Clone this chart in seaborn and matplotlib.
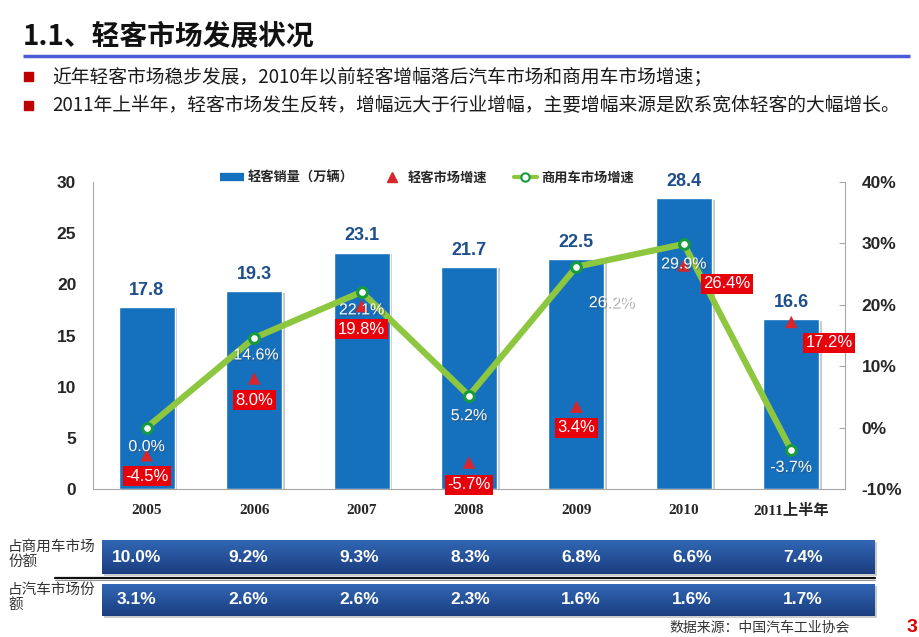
import numpy as np
import pandas as pd
import matplotlib
matplotlib.use('Agg')
import matplotlib.pyplot as plt
import seaborn as sns
from matplotlib.lines import Line2D
from matplotlib.patches import Rectangle
from matplotlib.colors import LinearSegmentedColormap
import matplotlib.patheffects as pe

# ---------------- data ----------------
years = ['2005', '2006', '2007', '2008', '2009', '2010', '2011上半年']
sales = [17.8, 19.3, 23.1, 21.7, 22.5, 28.4, 16.6]          # 轻客销量（万辆）
lcv_growth = [-4.5, 8.0, 19.8, -5.7, 3.4, 26.4, 17.2]       # 轻客市场增速 %
cv_growth = [0.0, 14.6, 22.1, 5.2, 26.2, 29.9, -3.7]        # 商用车市场增速 %
share_cv = [10.0, 9.2, 9.3, 8.3, 6.8, 6.6, 7.4]             # 占商用车市场份额 %
share_auto = [3.1, 2.6, 2.6, 2.3, 1.6, 1.6, 1.7]            # 占汽车市场份额 %
left_ticks = [0, 5, 10, 15, 20, 25, 30]
right_ticks = [-10, 0, 10, 20, 30, 40]
legend_labels = ['轻客销量（万辆）', '轻客市场增速', '商用车市场增速']
title = '1.1、轻客市场发展状况'
bullets = ['近年轻客市场稳步发展，2010年以前轻客增幅落后汽车市场和商用车市场增速；',
           '2011年上半年，轻客市场发生反转，增幅远大于行业增幅，主要增幅来源是欧系宽体轻客的大幅增长。']
row_labels = ['占商用车市场\n份额', '占汽车市场份\n额']
source = '数据来源：中国汽车工业协会'
page = '3'

# ---------------- style ----------------
BLUE = '#1570BE'
GREEN = '#8DC63F'
DKGREEN = '#169B3E'
RED = '#D7262C'
BOXRED = '#E8000B'
SPINE = '#A6A6A6'
green_off = [(0, -19), (2, -17), (0, -18), (0, -20), (35, -36), (0, -20), (0, -17)]
red_off = [(0, -21), (0, -22), (0, -23), (0, -22), (0, -21), (43, -18), (38, -21)]

sns.set_style('white')
plt.rcParams['font.family'] = ['Liberation Sans', 'Noto Sans CJK SC', 'DejaVu Sans']
CJK = ['Noto Sans CJK SC', 'DejaVu Sans']

W, H = 920, 637
fig = plt.figure(figsize=(9.2, 6.37), dpi=100)


def fx(px):
    return px / W


def fy(py):
    return 1 - py / H


# ---------------- main chart ----------------
ax = fig.add_axes([fx(93), fy(489), (845 - 93) / W, (489 - 182) / H])
df = pd.DataFrame({'year': years, 'sales': sales})
sns.barplot(data=df, x='year', y='sales', color=BLUE, saturation=1, width=0.52, ax=ax)
for p in ax.patches:
    p.set_path_effects([pe.SimplePatchShadow(offset=(2, -1), alpha=0.25), pe.Normal()])
ax.set_xlim(-0.5, 6.5)
ax.set_ylim(0, 30)
ax.set_yticks(left_ticks)
ax.set_xlabel('')
ax.set_ylabel('')
for s in ['top', 'right']:
    ax.spines[s].set_visible(False)
for s in ['left', 'bottom']:
    ax.spines[s].set_color(SPINE)
ax.tick_params(axis='y', length=0, pad=12, labelsize=12.5)
ax.tick_params(axis='x', length=0, pad=11)
for lbl in ax.get_yticklabels():
    lbl.set_fontweight('bold')
for lbl in ax.get_xticklabels():
    lbl.set_family(['Liberation Serif', 'Noto Sans CJK SC'])
    lbl.set_fontweight('bold')
    lbl.set_fontsize(11)

for i, v in enumerate(sales):
    ax.text(i, v + 0.8, f'{v:.1f}', ha='center', va='bottom', color='#1F4E8C',
            fontweight='bold', fontsize=13)

ax2 = ax.twinx()
ax2.set_ylim(-10, 40)
ax2.set_yticks(right_ticks)
ax2.set_yticklabels([f'{t}%' for t in right_ticks])
for s in ['top', 'left', 'bottom']:
    ax2.spines[s].set_visible(False)
ax2.spines['right'].set_color(SPINE)
ax2.tick_params(axis='y', direction='in', length=4, color=SPINE, pad=12, labelsize=12.5)
for lbl in ax2.get_yticklabels():
    lbl.set_fontweight('bold')

xs = np.arange(len(years))
sns.scatterplot(x=xs, y=lcv_growth, ax=ax2, marker='^', s=80, color=RED,
                edgecolor='none', legend=False, zorder=3)
sns.lineplot(x=xs, y=cv_growth, ax=ax2, color=GREEN, lw=4.5, marker='o', markersize=7,
             markerfacecolor='white', markeredgecolor=DKGREEN, markeredgewidth=2.2,
             legend=False, zorder=4)
ax2.set_xlim(-0.5, 6.5)
ax2.set_ylabel('')

for i, v in enumerate(cv_growth):
    ax2.annotate(f'{v:.1f}%', (i, v), xytext=green_off[i], textcoords='offset pixels',
                 ha='center', va='center', color='white', fontsize=11.5, zorder=6,
                 path_effects=[pe.withSimplePatchShadow(offset=(1, -1), shadow_rgbFace='#444', alpha=0.45)])
for i, v in enumerate(lcv_growth):
    ax2.annotate(f'{v:.1f}%', (i, v), xytext=red_off[i], textcoords='offset pixels',
                 ha='center', va='center', color='white', fontsize=12, zorder=7,
                 bbox=dict(boxstyle='square,pad=0.15', fc=BOXRED, ec='none'))

handles = [Line2D([0], [0], color=BLUE, lw=6, solid_capstyle='butt'),
           Line2D([0], [0], ls='none', marker='^', color=RED, ms=7),
           Line2D([0], [0], color=GREEN, lw=3, marker='o', mfc='white', mec=DKGREEN, ms=6, mew=1.5)]
fig.legend(handles, legend_labels, loc='center', bbox_to_anchor=(fx(427), fy(178)), ncol=3,
           frameon=False, prop={'family': CJK, 'weight': 'bold', 'size': 9.5},
           handlelength=1.8, columnspacing=2.0, handletextpad=0.3)

# ---------------- overlay (pixel coords) ----------------
ov = fig.add_axes([0, 0, 1, 1])
ov.set_xlim(0, W)
ov.set_ylim(H, 0)
ov.axis('off')
ov.patch.set_visible(False)

ov.text(23, 37, title, fontsize=20, fontweight='bold', va='center', ha='left', family=CJK, color='#111')
ov.plot([23, 910], [56, 56], color='#4B5CD6', lw=2.5, solid_capstyle='butt')
for k, (txt, yy) in enumerate(zip(bullets, [77, 106])):
    ov.add_patch(Rectangle((24, yy - 5), 9, 9, color='#C00000'))
    ov.text(52, yy, txt, fontsize=13.5, va='center', ha='left', family=CJK, color='#1a1a1a')

# table rows
cmap = LinearSegmentedColormap.from_list('tb', ['#3166B4', '#1B3E80'])
grad = np.linspace(0, 1, 60).reshape(-1, 1)
for (y0, y1) in [(540, 574), (584, 616)]:
    ov.add_patch(Rectangle((104, y0 + 2), 773, y1 - y0, color='#000', alpha=0.2, lw=0))
    ov.imshow(grad, extent=(102, 875, y1, y0), cmap=cmap, aspect='auto', origin='upper', zorder=2)
ov.set_xlim(0, W)
ov.set_ylim(H, 0)
ov.plot([55, 875], [577.5, 577.5], color='#111', lw=1.6)
ov.plot([55, 875], [580, 580], color='#999', lw=0.8)

for r, (vals, yc) in enumerate(zip([share_cv, share_auto], [557, 600])):
    ov.text(8, yc - 17, row_labels[r], fontsize=10.5, va='top', ha='left', family=CJK,
            color='#333', linespacing=1.05)
    for i, v in enumerate(vals):
        ov.text(137 + 111 * i, yc, f'{v:.1f}%', ha='center', va='center', color='white',
                fontweight='bold', fontsize=12.5, zorder=5)

ov.text(850, 628, source, fontsize=10, ha='right', va='center', family=CJK, color='#333')
ov.text(912, 628, page, fontsize=14, ha='center', va='center', fontweight='bold', color='#E00000')

fig.savefig('out.png', dpi=100)
